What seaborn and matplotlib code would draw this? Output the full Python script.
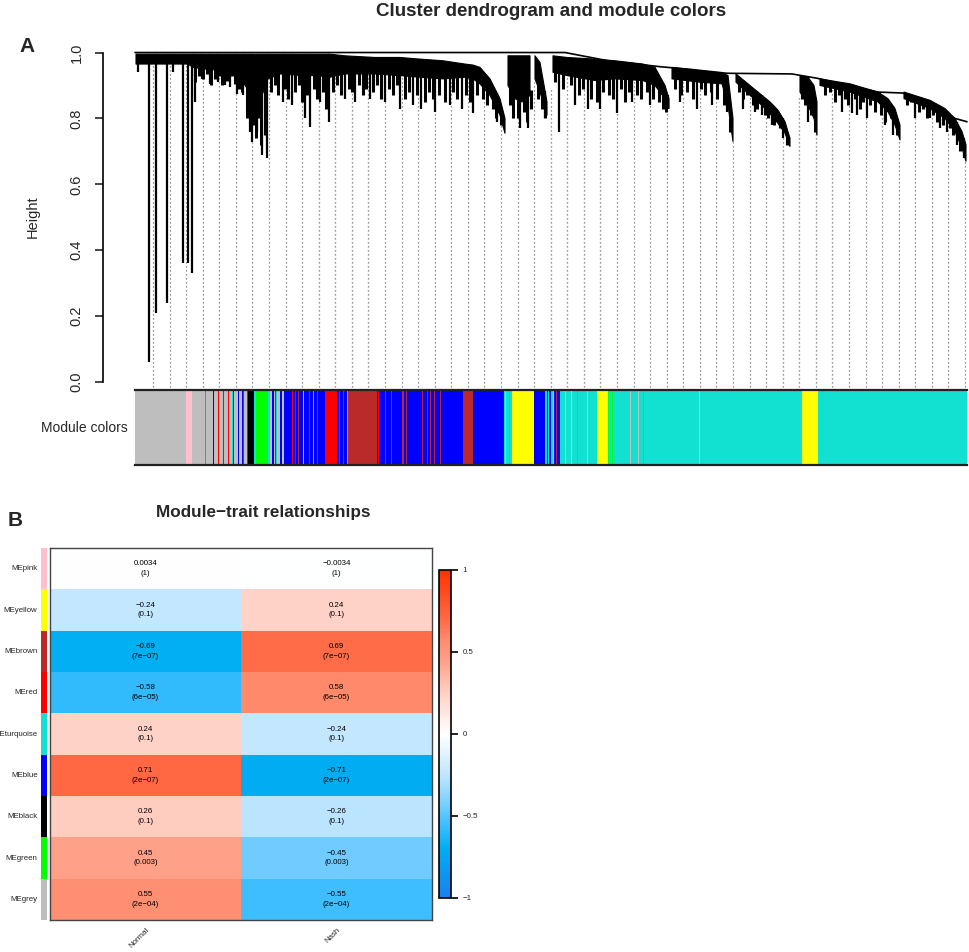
import numpy as np
import pandas as pd
import matplotlib
matplotlib.use("Agg")
import matplotlib.pyplot as plt
import seaborn as sns
from matplotlib.colors import LinearSegmentedColormap

W, H = 969, 952
nan = np.nan

# ---------------- panel A: dendrogram outline ----------------
n_leaves = 832

# solid black mass of merges: leaf position, top height, bottom height (nan = gap)
mass_leaf = [1, 13, 53, 58, 70, 90, 105, 110, 120, 127, 133, 145, 168, 182, 195, 210, 240,
             265, 285, 308, 330, 338, 345, 355, 365, 370, 371, 373, 380, 387, 395, 398, 400,
             405, 412, 414, 418, 432, 460, 480, 508, 520, 530, 534, 535, 537, 565, 587, 593,
             598, 599, 601, 615, 625, 635, 643, 650, 655, 656, 665, 673, 679, 682, 683, 685,
             715, 743, 753, 760, 765, 766, 769, 795, 810, 820, 827, 831]
mass_top = [0.995, 0.995, 0.995, 0.995, 0.995, 0.995, 0.995, 0.995, 0.995, 0.995, 0.995,
            0.995, 0.995, 0.995, 0.995, 0.99, 0.985, 0.985, 0.98, 0.975, 0.965, 0.962, 0.955,
            0.92, 0.86, 0.80, nan, 0.99, 0.99, 0.99, 0.99, nan, 0.99, 0.97, 0.85, nan, 0.99,
            0.985, 0.98, 0.975, 0.965, 0.955, 0.90, 0.86, nan, 0.955, 0.945, 0.938, 0.93, 0.80,
            nan, 0.935, 0.90, 0.875, 0.85, 0.825, 0.79, 0.74, nan, 0.93, 0.925, 0.90, 0.85,
            nan, 0.92, 0.905, 0.88, 0.86, 0.83, 0.78, nan, 0.88, 0.855, 0.83, 0.80, 0.76, 0.72]
mass_bot = [0.965, 0.965, 0.965, 0.955, 0.95, 0.945, 0.94, 0.90, 0.86, 0.87, 0.92, 0.935,
            0.93, 0.93, 0.925, 0.935, 0.935, 0.93, 0.925, 0.92, 0.925, 0.92, 0.905, 0.87, 0.81,
            0.755, nan, 0.90, 0.86, 0.85, 0.87, nan, 0.92, 0.88, 0.81, nan, 0.94, 0.93, 0.915,
            0.92, 0.915, 0.90, 0.86, 0.83, nan, 0.92, 0.91, 0.905, 0.84, 0.73, nan, 0.91, 0.87,
            0.845, 0.815, 0.785, 0.755, 0.715, nan, 0.88, 0.84, 0.80, 0.75, nan, 0.90, 0.88,
            0.85, 0.82, 0.78, 0.735, nan, 0.86, 0.83, 0.80, 0.76, 0.71, 0.67]

# single long branches hanging below the mass: leaf position, lowest height
spike_leaf = [3, 14, 21, 32, 38, 48, 53, 57, 60, 67, 75, 83, 90, 95, 102, 108, 115, 117, 122,
              127, 132, 148, 157, 170, 175, 185, 194, 210, 220, 235, 250, 265, 278, 286, 300,
              315, 327, 338, 362, 385, 393, 410, 424, 440, 453, 465, 482, 497, 515, 533, 545,
              562, 577, 592, 608, 620, 627, 637, 648, 673, 707, 717, 722, 732, 750, 758, 780,
              795, 805, 812, 822, 829]
spike_low = [0.94, 0.06, 0.21, 0.24, 0.94, 0.36, 0.36, 0.33, 0.85, 0.92,
             0.905, 0.91, 0.90, 0.895, 0.875, 0.87, 0.76, 0.73, 0.76, 0.69,
             0.68, 0.85, 0.84, 0.80, 0.774, 0.85, 0.79, 0.86, 0.85, 0.86,
             0.85, 0.83, 0.84, 0.83, 0.82, 0.84, 0.83, 0.816, 0.79, 0.77,
             0.77, 0.80, 0.76, 0.84, 0.83, 0.83, 0.816, 0.85, 0.84, 0.83,
             0.85, 0.83, 0.84, 0.82, 0.83, 0.82, 0.81, 0.78, 0.74, 0.79,
             0.82, 0.815, 0.81, 0.80, 0.78, 0.75, 0.80, 0.80, 0.77, 0.76,
             0.72, 0.68]

# short branch tips fringing the lower edge of the mass
fringe_leaf = [60, 64, 68, 72, 76, 80, 84, 87, 92, 97, 100, 104, 107,
               112, 118, 121, 124, 126, 130,
               136, 140, 143, 150, 153, 160, 164, 167, 172, 179, 182, 188, 191, 198, 202, 206,
               214, 217, 224, 228, 231, 238, 242, 246, 254, 258, 262, 270, 274, 282, 290, 294,
               298, 304, 310, 318, 322, 331, 335,
               342, 348, 352, 358, 361, 366,
               375, 378, 383, 389, 392, 396, 403, 407, 410,
               420, 428, 436, 444, 448, 456, 462, 468, 474, 478, 486, 490, 494, 502, 506, 512,
               518, 524, 528, 531,
               540, 546, 552, 558, 566, 570, 576, 582, 589, 595,
               604, 608, 612, 618, 622, 630, 633, 639, 645, 652,
               667, 670, 676, 680,
               690, 695, 700, 704, 710, 713, 720, 725, 728, 735, 740, 746, 750, 756, 762,
               772, 776, 784, 788, 792, 798, 802, 808, 815, 818, 825]
fringe_low = [0.91, 0.93, 0.92, 0.935, 0.90, 0.92, 0.93, 0.90, 0.915, 0.93, 0.905, 0.89, 0.88,
              0.80, 0.78, 0.74, 0.80, 0.72, 0.75,
              0.88, 0.90, 0.87, 0.89, 0.86, 0.88, 0.90, 0.85, 0.87, 0.89, 0.86, 0.88, 0.83,
              0.88, 0.90, 0.87, 0.89, 0.88, 0.90, 0.87, 0.89, 0.88, 0.90, 0.86, 0.89, 0.87,
              0.90, 0.86, 0.88, 0.87, 0.85, 0.88, 0.86, 0.87, 0.85, 0.88, 0.86, 0.87, 0.85,
              0.87, 0.86, 0.84, 0.83, 0.80, 0.78,
              0.84, 0.80, 0.80, 0.82, 0.79, 0.83, 0.86, 0.83, 0.80,
              0.91, 0.89, 0.90, 0.87, 0.89, 0.86, 0.85, 0.88, 0.87, 0.86, 0.89, 0.85, 0.88,
              0.87, 0.86, 0.88, 0.86, 0.85, 0.83, 0.82,
              0.89, 0.87, 0.88, 0.86, 0.89, 0.87, 0.88, 0.86, 0.84, 0.76,
              0.88, 0.86, 0.87, 0.84, 0.83, 0.81, 0.80, 0.78, 0.77, 0.72,
              0.86, 0.84, 0.81, 0.76,
              0.87, 0.88, 0.85, 0.87, 0.86, 0.84, 0.86, 0.83, 0.85, 0.84, 0.82, 0.81, 0.79,
              0.80, 0.75,
              0.84, 0.85, 0.82, 0.83, 0.80, 0.81, 0.79, 0.78, 0.77, 0.75, 0.70]

# top-level merge line
conn_leaf = [0, 430, 473, 525, 555, 592, 657, 682, 743, 768, 820, 832]
conn_h = [1.0, 1.0, 0.975, 0.957, 0.949, 0.937, 0.935, 0.922, 0.88, 0.877, 0.80, 0.79]

# module colour strip: first leaf of each run and its colour
strip_start = [0, 51, 57, 70, 71, 78, 79, 83, 84, 88, 89, 93, 94, 97, 98, 99, 103, 104, 107,
               108, 109, 112, 113, 119, 121, 133, 135, 137, 139, 140, 141, 142, 145, 147, 149,
               157, 158, 160, 161, 163, 164, 168, 169, 174, 175, 178, 179, 182, 183, 190, 202,
               204, 205, 208, 209, 212, 213, 242, 243, 244, 250, 251, 256, 257, 267, 269, 271,
               272, 287, 288, 292, 293, 295, 296, 299, 300, 305, 306, 328, 338, 369, 370, 371,
               374, 375, 377, 399, 410, 412, 413, 414, 416, 418, 419, 421, 422, 425, 430, 431,
               436, 437, 442, 443, 452, 453, 462, 473, 474, 477, 478, 495, 496, 503, 504, 508,
               509, 564, 565, 667, 683]
strip_color = ["grey", "pink", "grey", "dimgrey", "grey", "blue", "grey", "red", "grey", "red",
               "grey", "red", "grey", "turquoise", "blue", "grey", "blue", "grey", "blue",
               "red", "grey", "red", "black", "turquoise", "green", "turquoise", "grey", "blue",
               "grey", "red", "turquoise", "grey", "blue", "grey", "blue",
               "red", "blue", "red", "blue", "brown", "blue", "grey", "blue", "brown", "blue",
               "turquoise", "blue", "brown", "blue", "red", "blue",
               "brown", "blue", "brown", "blue", "turquoise", "brown", "blue", "red", "blue",
               "brown", "blue", "brown", "blue", "brown", "blue", "brown",
               "blue", "brown", "blue", "brown", "blue", "brown", "blue", "brown", "blue",
               "brown", "blue", "brown", "blue", "turquoise", "grey", "turquoise",
               "green", "turquoise", "yellow", "blue", "turquoise", "blue", "turquoise", "blue",
               "turquoise", "grey", "blue", "brown", "blue", "turquoise", "grey", "turquoise",
               "yellow", "turquoise", "green", "turquoise", "grey", "turquoise", "yellow",
               "green", "turquoise", "green", "turquoise", "grey", "turquoise", "grey",
               "turquoise", "green",
               "turquoise", "grey", "turquoise", "yellow", "turquoise"]

r_colors = {"grey": "#BEBEBE", "pink": "#FFC0CB", "dimgrey": "#808080", "blue": "#0000FF",
            "red": "#FF0000", "turquoise": "#12E0D0", "black": "#000000", "green": "#00FF00",
            "brown": "#BB2A2A", "yellow": "#FFFF00"}

# ---------------- panel B: module-trait correlations ----------------
modules = ["MEpink", "MEyellow", "MEbrown", "MEred", "MEturquoise", "MEblue", "MEblack",
           "MEgreen", "MEgrey"]
traits = ["Normal", "Nash"]
cor_normal = [0.0034, -0.24, -0.69, -0.58, 0.24, 0.71, 0.26, 0.45, 0.55]
cor_nash = [-0.0034, 0.24, 0.69, 0.58, -0.24, -0.71, -0.26, -0.45, -0.55]
p_normal = ["1", "0.1", "7e-07", "6e-05", "0.1", "2e-07", "0.1", "0.003", "2e-04"]
p_nash = ["1", "0.1", "7e-07", "6e-05", "0.1", "2e-07", "0.1", "0.003", "2e-04"]
module_side = ["pink", "yellow", "brown", "red", "turquoise", "blue", "black", "green", "grey"]

sns.set_style("white")
plt.rcParams["font.family"] = ["Liberation Sans", "DejaVu Sans"]

fig = plt.figure(figsize=(W / 100, H / 100), dpi=100)


def px_box(x0, y0, x1, y1):
    return [x0 / W, 1 - y1 / H, (x1 - x0) / W, (y1 - y0) / H]


# dendrogram
ax = fig.add_axes(px_box(103, 40, 969, 388))
ml = np.array(mass_leaf, float)
mt = np.array(mass_top, float)
mb = np.array(mass_bot, float)
ok = ~np.isnan(mt)

leaf_lines = np.linspace(18, 830, 50)  # dotted moire of the hanging leaf lines
ax.vlines(leaf_lines, -0.015, np.interp(leaf_lines, ml[ok], mb[ok]), colors="#707070",
          linestyles=(0, (1, 2.2)), lw=0.9, zorder=1)
ax.fill_between(mass_leaf, mass_bot, mass_top, color="black", lw=0.8, zorder=2)
ax.vlines(spike_leaf, spike_low, np.interp(spike_leaf, ml[ok], mt[ok]),
          colors="black", lw=1.6, zorder=2)
ax.vlines(fringe_leaf, fringe_low, np.interp(fringe_leaf, ml[ok], mb[ok]) + 0.005,
          colors="black", lw=2.2, zorder=2)
ax.plot(conn_leaf, conn_h, color="black", lw=1.2, zorder=3)
ax.set_xlim(-32, n_leaves + 2)
ax.set_ylim(-0.018, 1.038)
for s in ["top", "right", "bottom"]:
    ax.spines[s].set_visible(False)
ax.spines["left"].set_bounds(0, 1)
ax.spines["left"].set_linewidth(1.2)
ax.spines["left"].set_color("black")
ax.set_xticks([])
ax.set_yticks([0, 0.2, 0.4, 0.6, 0.8, 1.0])
ax.set_yticklabels(["0.0", "0.2", "0.4", "0.6", "0.8", "1.0"], rotation=90, va="center")
ax.tick_params(axis="y", length=6, width=1.2, labelsize=10.5, pad=8, left=True)

# module colour strip
sax = fig.add_axes(px_box(135, 390, 967, 465))
widths = np.diff(strip_start + [n_leaves])
sax.bar(strip_start, 1, width=widths, align="edge",
        color=[r_colors[c] for c in strip_color], lw=0)
sax.set_xlim(0, n_leaves)
sax.set_ylim(0, 1)
sax.set_xticks([])
sax.set_yticks([])
for s in ["left", "right"]:
    sax.spines[s].set_visible(False)
for s in ["top", "bottom"]:
    sax.spines[s].set_linewidth(1.6)
    sax.spines[s].set_color("#222222")

fig.text(551 / W, 1 - 12 / H, "Cluster dendrogram and module colors", ha="center",
         va="center", fontweight="bold", fontsize=13.5)
fig.text(27 / W, 1 - 47 / H, "A", ha="center", va="center", fontweight="bold", fontsize=15)
fig.text(33 / W, 1 - 217 / H, "Height", rotation=90, ha="center", va="center", fontsize=10.5)
fig.text(128 / W, 1 - 428 / H, "Module colors", ha="right", va="center", fontsize=10)

# heatmap
cmap = LinearSegmentedColormap.from_list("bwr_wgcna", [
    (0.0, "#1A80F0"), (0.15, "#00AEF2"), (0.225, "#40BEFF"), (0.275, "#70CCFF"),
    (0.375, "#C0E6FF"), (0.5, "#FFFFFF"), (0.625, "#FFD0C4"), (0.725, "#FFA088"),
    (0.79, "#FF8A6C"), (0.85, "#FF6A45"), (1.0, "#FF3300")])

df = pd.DataFrame({"Normal": cor_normal, "Nash": cor_nash}, index=modules)[traits]


def fmt(v):
    return f"{v:g}".replace("-", "\u2212")


annot = np.array([[f"{fmt(a)}\n({pa.replace('-', chr(0x2212))})",
                   f"{fmt(b)}\n({pb.replace('-', chr(0x2212))})"]
                  for a, b, pa, pb in zip(cor_normal, cor_nash, p_normal, p_nash)])

hax = fig.add_axes(px_box(50, 548, 432, 920))
cax = fig.add_axes(px_box(439, 570, 451, 898))
sns.heatmap(df, ax=hax, cmap=cmap, vmin=-1, vmax=1, annot=annot, fmt="",
            annot_kws={"fontsize": 5.7, "color": "black", "linespacing": 1.5},
            cbar_ax=cax, xticklabels=True, yticklabels=True)
for s in hax.spines.values():
    s.set_visible(True)
    s.set_color("#444444")
    s.set_linewidth(1.0)
hax.tick_params(axis="y", length=0, pad=9, labelsize=5.7)
hax.tick_params(axis="x", length=0, pad=5, labelsize=5.7)
plt.setp(hax.get_yticklabels(), rotation=0, ha="right")
plt.setp(hax.get_xticklabels(), rotation=45, ha="right", va="top", rotation_mode="anchor")

cbar = hax.collections[0].colorbar
cbar.set_ticks([-1, -0.5, 0, 0.5, 1])
cbar.set_ticklabels(["\u22121", "\u22120.5", "0", "0.5", "1"])
cax.tick_params(labelsize=5.7, length=5, width=1.2, color="black")
cbar.outline.set_linewidth(1.2)
cbar.outline.set_edgecolor("black")

side = fig.add_axes(px_box(41, 548, 47, 920))
side.barh(np.arange(len(modules)), 1, height=1, color=[r_colors[c] for c in module_side], lw=0)
side.set_ylim(len(modules) - 0.5, -0.5)
side.set_xlim(0, 1)
side.axis("off")

fig.text(15 / W, 1 - 521 / H, "B", ha="center", va="center", fontweight="bold", fontsize=15)
fig.text(263 / W, 1 - 512 / H, "Module\u2212trait relationships", ha="center", va="center",
         fontweight="bold", fontsize=12.3)

fig.savefig("out.png", dpi=100)
